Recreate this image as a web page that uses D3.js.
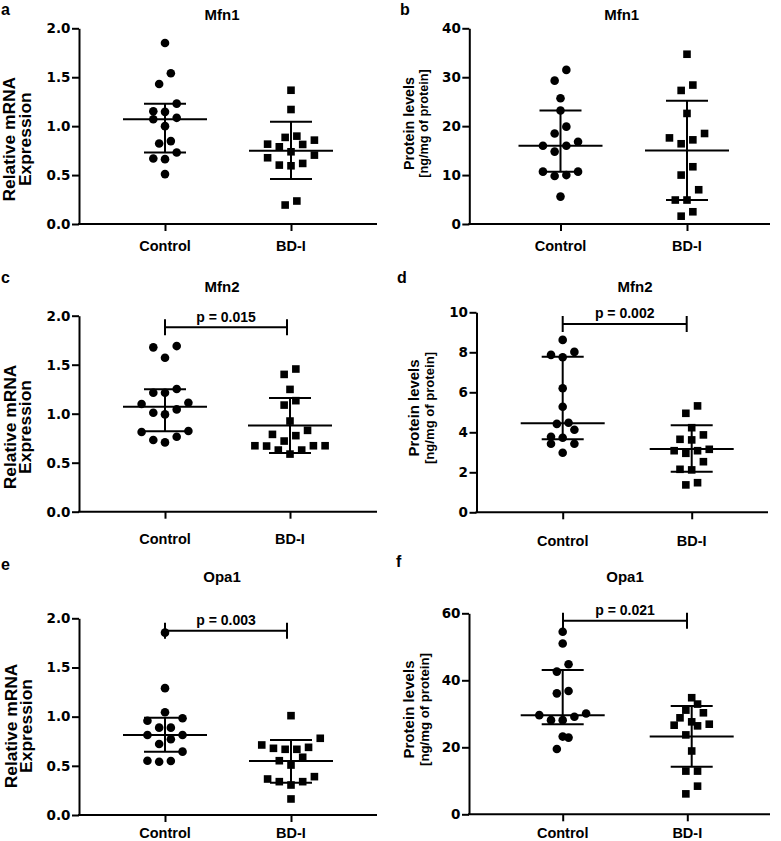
<!DOCTYPE html>
<html>
<head>
<meta charset="utf-8">
<script src="https://cdn.jsdelivr.net/npm/d3@7"></script>
<style>
  html, body { margin: 0; padding: 0; background: #fff; }
  svg { display: block; }
</style>
</head>
<body>
<svg id="chart" width="781" height="841"></svg>
<script>
// ---------------- DATA ----------------
const categories = ["Control", "BD-I"];
const panelLetters = ["a", "b", "c", "d", "e", "f"];
const panelTitles = ["Mfn1", "Mfn1", "Mfn2", "Mfn2", "Opa1", "Opa1"];
const mrnaLabel = ["Relative mRNA", "Expression"];
const proteinLabel = ["Protein levels", "[ng/mg of protein]"];

const ticksMRNA = [0, 0.5, 1.0, 1.5, 2.0];
const ticksB = [0, 10, 20, 30, 40];
const ticksD = [0, 2, 4, 6, 8, 10];
const ticksF = [0, 20, 40, 60];

// a: Mfn1 mRNA
const aControl = [1.85, 1.54, 1.43, 1.23, 1.146, 1.153, 1.07, 1.085, 1.0, 0.823, 0.847, 0.73, 0.67, 0.663, 0.51];
const aBD = [1.367, 1.17, 0.857, 0.898, 0.885, 0.813, 0.789, 0.816, 0.738, 0.704, 0.677, 0.602, 0.595, 0.619, 0.194, 0.235];
const aCenter = [1.07, 0.748], aLow = [0.73, 0.459], aHigh = [1.23, 1.044];

// b: Mfn1 protein
const bControl = [31.5, 29.3, 25.7, 23.2, 19.9, 18.5, 16.8, 16.0, 16.0, 14.8, 10.7, 10.0, 9.8, 10.7, 5.6];
const bBD = [34.7, 28.4, 27.3, 22.6, 18.5, 17.2, 17.6, 16.4, 11.7, 10.0, 7.0, 4.9, 4.9, 2.5, 1.6];
const bCenter = [16.0, 15.0], bLow = [10.7, 4.9], bHigh = [23.2, 25.2];

// c: Mfn2 mRNA
const cControl = [1.677, 1.690, 1.571, 1.252, 1.214, 1.214, 1.099, 1.112, 1.010, 0.993, 1.044, 0.823, 0.813, 0.765, 0.707, 0.731];
const cBD = [1.456, 1.401, 1.248, 1.133, 1.088, 0.925, 0.830, 0.789, 0.776, 0.721, 0.673, 0.673, 0.629, 0.588, 0.629, 0.670, 0.673];
const cCenter = [1.07, 0.88], cLow = [0.82, 0.60], cHigh = [1.25, 1.16];

// d: Mfn2 protein
const dControl = [8.62, 7.87, 7.75, 8.02, 6.2, 5.28, 4.42, 4.48, 3.73, 3.78, 4.13, 3.43, 3.43, 2.98];
const dBD = [5.32, 4.95, 4.23, 3.87, 3.65, 3.62, 3.08, 2.95, 3.08, 3.15, 2.53, 2.15, 2.12, 1.48, 1.37];
const dCenter = [4.45, 3.17], dLow = [3.65, 2.03], dHigh = [7.78, 4.35];

// e: Opa1 mRNA
const eControl = [1.854, 1.29, 1.044, 0.959, 0.983, 0.888, 0.888, 0.813, 0.813, 0.77, 0.722, 0.644, 0.552, 0.542, 0.549];
const eBD = [1.01, 0.78, 0.688, 0.668, 0.668, 0.678, 0.712, 0.587, 0.552, 0.508, 0.366, 0.339, 0.305, 0.339, 0.39, 0.163];
const eCenter = [0.813, 0.549], eLow = [0.644, 0.329], eHigh = [0.99, 0.763];

// f: Opa1 protein
const fControl = [54.5, 51.0, 44.8, 42.6, 36.1, 36.8, 29.6, 30.1, 28.1, 28.1, 29.1, 23.2, 22.9, 19.5];
const fBD = [34.8, 32.9, 31.1, 30.3, 28.8, 26.9, 27.6, 26.4, 26.6, 23.7, 18.9, 12.9, 12.9, 8.4, 6.1];
const fCenter = [29.6, 23.2], fLow = [26.9, 14.2], fHigh = [43.1, 32.3];

const pLabels = [null, null, "p = 0.015", "p = 0.002", "p = 0.003", "p = 0.021"];

// ---------------- LAYOUT (pixels) ----------------
const layout = [
  { axisX: 79, axisEnd: 377, yTop: 28.3, yBot: 224, cx: [165, 291], tx: [165, 291],
    title: [222, 20], letter: [1, 15], ylab: { x1: 14.5, x2: 30.5, cy: 139.2, s1: 17.4, s2: 17.4 }, xlabY: 250.7 },
  { axisX: 469.3, axisEnd: 770, yTop: 28.3, yBot: 224, cx: [560.5, 687], tx: [560.5, 687],
    title: [621.7, 20], letter: [400, 15], ylab: { x1: 414, x2: 428, cy: 123.5, s1: 14.3, s2: 12.7 }, xlabY: 250.7 },
  { axisX: 79, axisEnd: 377, yTop: 315.7, yBot: 511.7, cx: [165, 290], tx: [165, 290],
    title: [222, 291.7], letter: [1, 283], ylab: { x1: 15.5, x2: 31, cy: 427, s1: 17.4, s2: 17.4 }, xlabY: 544,
    bracket: { y: 327.3, x: [165, 287], textY: 321.7 } },
  { axisX: 476.5, axisEnd: 768, yTop: 312.3, yBot: 512.3, cx: [562.7, 691.7], tx: [562.7, 691.7],
    title: [635, 291.7], letter: [397, 282.7], ylab: { x1: 419, x2: 433.5, cy: 408, s1: 14.9, s2: 13.1 }, xlabY: 546,
    bracket: { y: 324, x: [562.7, 686.7], textY: 318.3 } },
  { axisX: 79, axisEnd: 377, yTop: 618.3, yBot: 815, cx: [165, 291], tx: [165, 291],
    title: [222, 581.7], letter: [1, 570], ylab: { x1: 16.5, x2: 31.5, cy: 726, s1: 17.4, s2: 17.4 }, xlabY: 838.3,
    bracket: { y: 630.7, x: [165, 287], textY: 625 } },
  { axisX: 469, axisEnd: 770, yTop: 613.3, yBot: 814.3, cx: [562.7, 691.7], tx: [562.7, 687.3],
    title: [625, 581.7], letter: [396, 566.7], ylab: { x1: 414, x2: 428.5, cy: 709.5, s1: 15.1, s2: 13.2 }, xlabY: 838.3,
    bracket: { y: 620.7, x: [563, 687], textY: 615 } }
];

const panels = [
  { ticks: ticksMRNA, fmt: d3.format(".1f"), ylabel: mrnaLabel, groups: [aControl, aBD], center: aCenter, low: aLow, high: aHigh },
  { ticks: ticksB, fmt: d3.format("d"), ylabel: proteinLabel, groups: [bControl, bBD], center: bCenter, low: bLow, high: bHigh },
  { ticks: ticksMRNA, fmt: d3.format(".1f"), ylabel: mrnaLabel, groups: [cControl, cBD], center: cCenter, low: cLow, high: cHigh },
  { ticks: ticksD, fmt: d3.format("d"), ylabel: proteinLabel, groups: [dControl, dBD], center: dCenter, low: dLow, high: dHigh },
  { ticks: ticksMRNA, fmt: d3.format(".1f"), ylabel: mrnaLabel, groups: [eControl, eBD], center: eCenter, low: eLow, high: eHigh },
  { ticks: ticksF, fmt: d3.format("d"), ylabel: proteinLabel, groups: [fControl, fBD], center: fCenter, low: fLow, high: fHigh }
];

const LABEL_FONT = "'Liberation Sans', Arial, Helvetica, sans-serif";
const TICK_FONT = "'DejaVu Sans', Verdana, sans-serif";
const STROKE = 2;

// beeswarm: group points in rows (bottom-up) and spread them horizontally
function swarm(vals, y, cx) {
  const step = 5.85, h = 11.7;
  const s = vals.map(v => ({ v, py: y(v) })).sort((a, b) => a.v - b.v);
  const out = [];
  let i = 0;
  while (i < s.length) {
    const start = s[i].py;
    let j = i;
    while (j < s.length && start - s[j].py < h) j++;
    const row = s.slice(i, j);
    const k = row.length;
    row.forEach((p, idx) => {
      let slot;
      if (k % 2) slot = idx === 0 ? 0 : (idx % 2 ? -1 : 1) * 2 * Math.ceil(idx / 2);
      else slot = (idx % 2 ? 1 : -1) * (2 * Math.floor(idx / 2) + 1);
      out.push({ v: p.v, x: cx + slot * step, y: p.py });
    });
    i = j;
  }
  return out;
}

const svg = d3.select("#chart");
svg.append("rect").attr("width", 781).attr("height", 841).attr("fill", "#fff");

panels.forEach((p, pi) => {
  const L = layout[pi];
  const g = svg.append("g");
  const y = d3.scaleLinear().domain([0, d3.max(p.ticks)]).range([L.yBot, L.yTop]);
  const xCol = d3.scaleOrdinal().domain(categories).range(L.cx);
  const xTick = d3.scaleOrdinal().domain(categories).range(L.tx);

  // panel letter
  g.append("text").attr("x", L.letter[0]).attr("y", L.letter[1])
    .attr("font-family", LABEL_FONT).attr("font-weight", "bold").attr("font-size", 16)
    .text(panelLetters[pi]);

  // title
  g.append("text").attr("x", L.title[0]).attr("y", L.title[1]).attr("text-anchor", "middle")
    .attr("font-family", LABEL_FONT).attr("font-weight", "bold").attr("font-size", 15)
    .text(panelTitles[pi]);

  // y axis
  const yAxis = d3.axisLeft(y).tickValues(p.ticks).tickFormat(p.fmt).tickSize(7).tickSizeOuter(0).tickPadding(1.5);
  const ya = g.append("g").attr("transform", `translate(${L.axisX},0)`).call(yAxis);
  ya.select(".domain").attr("stroke", "#000").attr("stroke-width", STROKE);
  ya.selectAll(".tick line").attr("stroke", "#000").attr("stroke-width", STROKE);
  ya.selectAll(".tick text").attr("fill", "#000")
    .attr("font-family", TICK_FONT).attr("font-weight", "bold").attr("font-size", 13.5);

  // x axis
  g.append("line").attr("x1", L.axisX - 1).attr("x2", L.axisEnd).attr("y1", L.yBot).attr("y2", L.yBot)
    .attr("stroke", "#000").attr("stroke-width", STROKE);
  const xAxis = d3.axisBottom(xTick).tickSize(7).tickSizeOuter(0).tickFormat("");
  const xa = g.append("g").attr("transform", `translate(0,${L.yBot})`).call(xAxis);
  xa.select(".domain").remove();
  xa.selectAll(".tick line").attr("stroke", "#000").attr("stroke-width", STROKE);
  g.selectAll(".xlab").data(categories).enter().append("text")
    .attr("x", d => xTick(d)).attr("y", L.xlabY).attr("text-anchor", "middle")
    .attr("font-family", LABEL_FONT).attr("font-weight", "bold").attr("font-size", 14.5)
    .text(d => d);

  // y label (two lines)
  [[p.ylabel[0], L.ylab.x1, L.ylab.s1], [p.ylabel[1], L.ylab.x2, L.ylab.s2]].forEach(([t, x, s]) => {
    g.append("text").attr("transform", `translate(${x},${L.ylab.cy}) rotate(-90)`)
      .attr("text-anchor", "middle")
      .attr("font-family", LABEL_FONT).attr("font-weight", "bold").attr("font-size", s)
      .text(t);
  });

  // points
  p.groups.forEach((vals, gi) => {
    const pts = swarm(vals, y, xCol(categories[gi]));
    if (gi === 0) {
      g.selectAll(null).data(pts).enter().append("circle")
        .attr("cx", d => d.x).attr("cy", d => d.y).attr("r", 4.3).attr("fill", "#000");
    } else {
      const sz = 7.6;
      g.selectAll(null).data(pts).enter().append("rect")
        .attr("x", d => d.x - sz / 2).attr("y", d => d.y - sz / 2)
        .attr("width", sz).attr("height", sz).attr("fill", "#000");
    }
    // error bars
    const cx = xCol(categories[gi]);
    const eb = g.append("g").attr("stroke", "#000").attr("stroke-width", STROKE);
    eb.append("line").attr("x1", cx).attr("x2", cx).attr("y1", y(p.low[gi])).attr("y2", y(p.high[gi]));
    eb.append("line").attr("x1", cx - 42).attr("x2", cx + 42).attr("y1", y(p.center[gi])).attr("y2", y(p.center[gi]));
    [p.low[gi], p.high[gi]].forEach(v => {
      eb.append("line").attr("x1", cx - 21).attr("x2", cx + 21).attr("y1", y(v)).attr("y2", y(v));
    });
  });

  // significance bracket
  if (pLabels[pi] && L.bracket) {
    const B = L.bracket;
    const bg = g.append("g").attr("stroke", "#000").attr("stroke-width", STROKE);
    bg.append("line").attr("x1", B.x[0]).attr("x2", B.x[1]).attr("y1", B.y).attr("y2", B.y);
    B.x.forEach(x => bg.append("line").attr("x1", x).attr("x2", x).attr("y1", B.y - 8).attr("y2", B.y + 8));
    g.append("text").attr("x", (B.x[0] + B.x[1]) / 2).attr("y", B.textY).attr("text-anchor", "middle")
      .attr("font-family", LABEL_FONT).attr("font-weight", "bold").attr("font-size", 14)
      .text(pLabels[pi]);
  }
});
</script>
</body>
</html>
